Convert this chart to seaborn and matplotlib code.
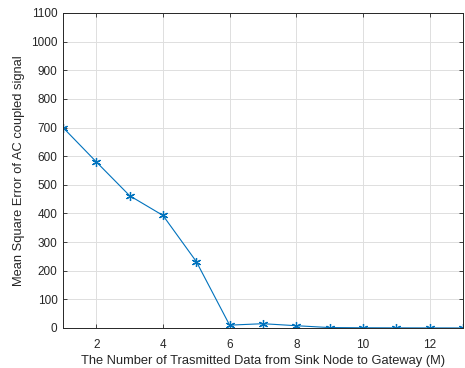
import matplotlib
matplotlib.use("Agg")
import matplotlib.pyplot as plt
import seaborn as sns
import pandas as pd

# transmitted data count M vs mean square error
m_values = [1, 2, 3, 4, 5, 6, 7, 8, 9, 10, 11, 12, 13]
mse_values = [700, 580, 462, 393, 232, 10, 15, 8, 1.5, 0.8, 0.5, 0.3, 0.2]

df = pd.DataFrame({"M": m_values, "MSE": mse_values})

sns.set_style("whitegrid")
plt.rcParams['font.family'] = ['Liberation Sans', 'DejaVu Sans']

fig = plt.figure(figsize=(4.65, 3.68), dpi=100)
ax = fig.add_axes([0.1355, 0.1087, 0.86, 0.856])

sns.lineplot(data=df, x="M", y="MSE", ax=ax, color="#0072BD", linewidth=0.8,
             marker=(6, 2, 0), markersize=6.5, markeredgewidth=0.9,
             markeredgecolor="#0072BD")

ax.set_xlim(1, 13)
ax.set_ylim(0, 1100)
ax.set_xticks([2, 4, 6, 8, 10, 12])
ax.set_yticks(range(0, 1101, 100))
ax.grid(True, color="#dedede", linewidth=0.7)
for s in ax.spines.values():
    s.set_visible(True)
    s.set_color("#262626")
    s.set_linewidth(0.7)
ax.tick_params(direction="in", length=3, width=0.6, colors="#262626",
               labelsize=8.5, labelcolor="#262626", top=True, right=True,
               bottom=True, left=True, pad=4)
ax.tick_params(axis="x", pad=8)
ax.set_xlabel("The Number of Trasmitted Data from Sink Node to Gateway (M)",
              fontsize=9.3, color="#262626", labelpad=2.5)
ax.set_ylabel("Mean Square Error of AC coupled signal",
              fontsize=9.3, color="#262626", labelpad=4)

fig.savefig("out.png", dpi=100)
